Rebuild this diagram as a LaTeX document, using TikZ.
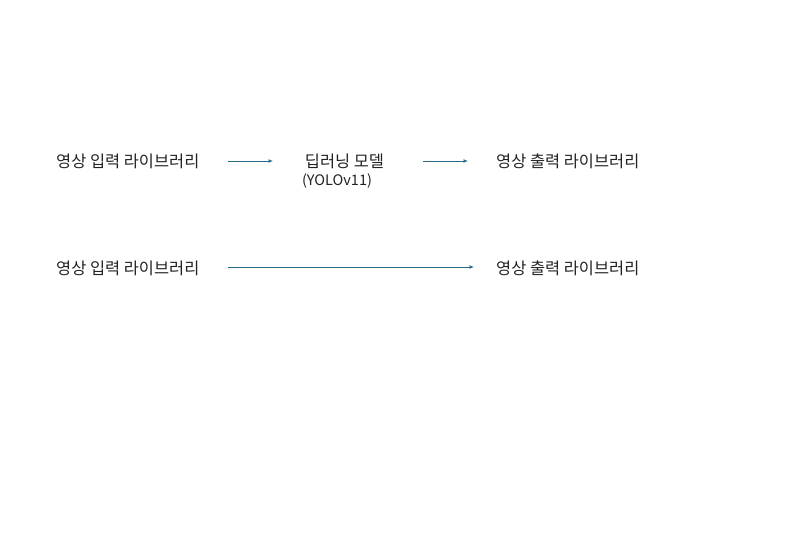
\documentclass[tikz,border=0pt]{standalone}
\usepackage{fontspec}
\setmainfont{Noto Sans CJK KR}
\usetikzlibrary{arrows.meta}
\definecolor{arr}{HTML}{2A6A8A}
\definecolor{txt}{HTML}{222222}
\tikzset{
  lbl/.style={inner sep=0pt, text=txt, font=\fontsize{16.4}{19}\selectfont},
  sub/.style={inner sep=0pt, text=txt, font=\fontsize{14.5}{17}\selectfont},
  conn/.style={draw=arr, line width=1pt, -{Latex[length=4.5pt,width=4pt]}}
}
\begin{document}
\begin{tikzpicture}[x=1pt,y=-1pt]
\useasboundingbox (0,0) rectangle (796,560);
\node[lbl, anchor=west] (in1) at (56,161) {영상 입력 라이브러리};
\node[lbl] (dl) at (344.5,161) {딥러닝 모델};
\node[sub] (yolo) at (337,181) {(YOLOv11)};
\node[lbl, anchor=west] (out1) at (496,161) {영상 출력 라이브러리};
\coordinate (a1s) at (228,161);
\coordinate (a1e) at (273,161);
\coordinate (a2s) at (423,161);
\coordinate (a2e) at (468,161);
\draw[conn] (a1s) -- (a1e);
\draw[conn] (a2s) -- (a2e);
\node[lbl, anchor=west] (in2) at (56,268) {영상 입력 라이브러리};
\node[lbl, anchor=west] (out2) at (496,268) {영상 출력 라이브러리};
\coordinate (b1s) at (228,267);
\coordinate (b1e) at (474,267);
\draw[conn] (b1s) -- (b1e);
\end{tikzpicture}
\end{document}
